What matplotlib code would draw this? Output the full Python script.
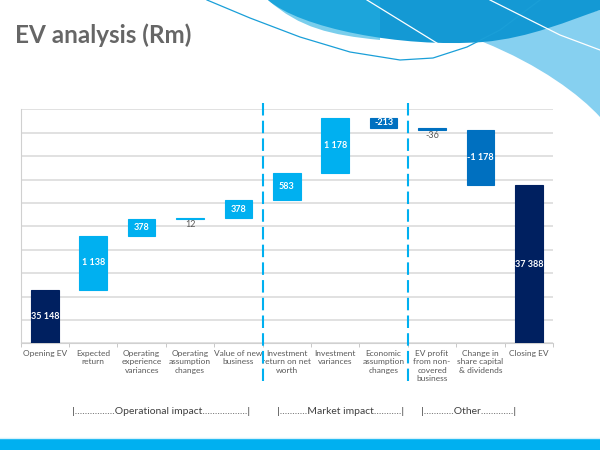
import matplotlib
matplotlib.use("Agg")
import matplotlib.pyplot as plt
from matplotlib.path import Path
from matplotlib.patches import PathPatch, Rectangle
import numpy as np

plt.rcParams['font.family'] = ['Lato', 'DejaVu Sans']

# data
categories = ["Opening EV", "Expected\nreturn", "Operating\nexperience\nvariances",
              "Operating\nassumption\nchanges", "Value of new\nbusiness",
              "Investment\nreturn on net\nworth", "Investment\nvariances",
              "Economic\nassumption\nchanges", "EV profit\nfrom non-\ncovered\nbusiness",
              "Change in\nshare capital\n& dividends", "Closing EV"]
opening_ev = 35148
changes = [1138, 378, 12, 378, 583, 1178, -213, -36, -1178]
closing_ev = 37388
group_labels = ["|................Operational impact..................|",
                "|...........Market impact...........|",
                "|............Other.............|"]
group_centres = [2.4, 6.1, 8.75]
group_breaks = [4.5, 7.5]

navy = "#002060"
light = "#00b0f0"
mid = "#0070c0"
grey_txt = "#595959"

fig = plt.figure(figsize=(6, 4.5), dpi=100)

# background decoration (pixel coords)
bg = fig.add_axes([0, 0, 1, 1], zorder=0)
bg.set_xlim(0, 600)
bg.set_ylim(450, 0)
bg.axis("off")
P = Path
# light blue tail
verts = [(483, 42), (530, 30), (570, 18), (600, 10), (600, 117),
         (580, 95), (540, 65), (483, 42), (483, 42)]
codes = [P.MOVETO, P.CURVE4, P.CURVE4, P.CURVE4, P.LINETO,
         P.CURVE4, P.CURVE4, P.CURVE4, P.CLOSEPOLY]
bg.add_patch(PathPatch(Path(verts, codes), fc="#86d0f0", ec="none"))
# dark swoosh
verts = [(268, 0), (300, 28), (400, 48), (483, 42), (530, 38), (570, 20), (600, 10),
         (600, 0), (268, 0)]
codes = [P.MOVETO, P.CURVE4, P.CURVE4, P.CURVE4, P.CURVE4, P.CURVE4, P.CURVE4,
         P.LINETO, P.CLOSEPOLY]
bg.add_patch(PathPatch(Path(verts, codes), fc="#1499d4", ec="none"))
bg.add_patch(PathPatch(Path([(268, 0), (300, 28), (330, 35), (380, 40), (380, 0), (268, 0)],
                            [P.MOVETO, P.CURVE4, P.CURVE4, P.CURVE4, P.LINETO, P.CLOSEPOLY]),
                       fc="#22aee0", ec="none", alpha=0.6))
# thin lines
lx = [207, 250, 300, 350, 400, 433, 467, 500, 540]
ly = [0, 18, 37, 52, 60, 58, 47, 30, 0]
bg.plot(lx, ly, color="#1a9fd8", lw=0.9)
bg.plot([367, 440], [0, 45], color="white", lw=0.9)
bg.plot([490, 560, 600], [0, 35, 50], color="white", lw=0.9)
# bottom band
bg.add_patch(Rectangle((0, 439), 600, 11, fc=light, ec="none"))
bg.plot([0, 600], [437.5, 437.5], color="#d6f1fb", lw=1)

fig.text(15 / 600, 1 - 35 / 450, "EV analysis (Rm)", fontsize=17.5, fontweight="bold",
         color="#666666", va="center", ha="left")

ax = fig.add_axes([20.7 / 600, 1 - 343.3 / 450, 532.3 / 600, 234 / 450], zorder=1)
ax.patch.set_alpha(0)

values = [opening_ev] + changes + [closing_ev]
n = len(values)
x = np.arange(n)
running = opening_ev
bottoms, heights, colors = [], [], []
for i, v in enumerate(values):
    if i == 0 or i == n - 1:
        bottoms.append(0)
        heights.append(v)
        colors.append(navy)
    else:
        bottoms.append(running if v >= 0 else running + v)
        heights.append(abs(v))
        colors.append(light if v > 0 else mid)
        running += v

ax.bar(x, heights, bottom=bottoms, width=0.57, color=colors, edgecolor=colors,
       linewidth=0.8, zorder=3)

for i, v in enumerate(values):
    txt = f"{v:,}".replace(",", " ")
    if i in (0, n - 1):
        yc = 34000 + (v - 34000) / 2
        ax.text(x[i], yc, txt, ha="center", va="center", color="white",
                fontsize=6.5, fontweight="bold", zorder=4)
    elif abs(v) < 100:
        ax.text(x[i], bottoms[i] - 20, txt, ha="center", va="top", color=grey_txt,
                fontsize=6.5, zorder=4)
    else:
        ax.text(x[i], bottoms[i] + heights[i] / 2, txt, ha="center", va="center",
                color="white", fontsize=6.5, fontweight="bold", zorder=4)

ax.set_xlim(-0.5, n - 0.5)
ax.set_ylim(34000, 39000)
ax.set_yticks(np.arange(34000, 39001, 500))
ax.set_yticklabels([])
ax.grid(axis="y", color="#d9d9d9", lw=1.1, zorder=0)
ax.set_xticks(x)
ax.set_xticklabels(categories, fontsize=6, color=grey_txt, linespacing=1.25)
ax.set_xticks(np.arange(-0.5, n, 1), minor=True)
ax.tick_params(axis="x", which="major", length=0, pad=4.5)
ax.tick_params(axis="x", which="minor", length=3, color="#bfbfbf", direction="out")
ax.tick_params(axis="y", length=0)
for s in ("top", "right"):
    ax.spines[s].set_visible(False)
for s in ("left", "bottom"):
    ax.spines[s].set_color("#d0d0d0")

# dashed separators between groups
for b in group_breaks:
    ax.plot([b, b], [1.027, -0.16], transform=ax.get_xaxis_transform(), color=light,
            lw=1.5, ls=(0, (6, 2.5)), clip_on=False, zorder=5)

for lab, c in zip(group_labels, group_centres):
    ax.text(c, 1 - (411 - 109.3) / 234, lab, transform=ax.get_xaxis_transform(),
            ha="center", va="center", fontsize=7.5, color="#404040")

fig.savefig("out.png", dpi=100)
